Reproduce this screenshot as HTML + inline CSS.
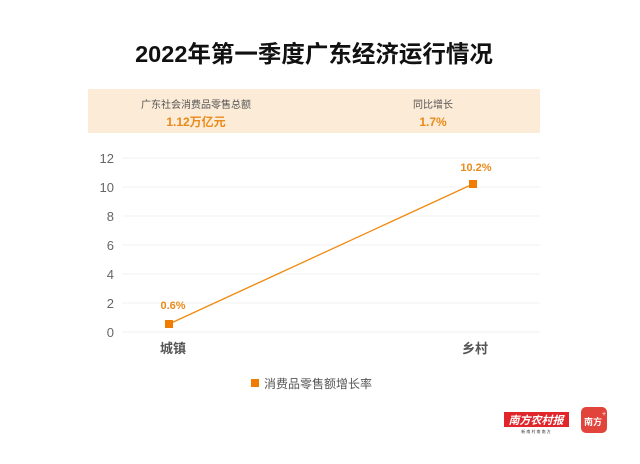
<!DOCTYPE html>
<html><head><meta charset="utf-8"><style>
html,body{margin:0;padding:0;background:#fff;}
body{width:640px;height:459px;overflow:hidden;font-family:"Liberation Sans","Noto Sans CJK SC",sans-serif;}
</style></head><body>
<svg width="640" height="459" viewBox="0 0 640 459" xmlns="http://www.w3.org/2000/svg" font-family="Liberation Sans, Noto Sans CJK SC, sans-serif">
<rect width="640" height="459" fill="#fff"/>
<text x="314" y="62" text-anchor="middle" font-size="23.5" font-weight="bold" fill="#111">2022年第一季度广东经济运行情况</text>
<rect x="88" y="89" width="452" height="44" fill="#fcebd6"/>
<text x="196" y="108" text-anchor="middle" font-size="10" fill="#555">广东社会消费品零售总额</text>
<text x="196" y="126" text-anchor="middle" font-size="12" font-weight="bold" fill="#e98a1a">1.12万亿元</text>
<text x="433" y="108" text-anchor="middle" font-size="10" fill="#555">同比增长</text>
<text x="433" y="126" text-anchor="middle" font-size="12" font-weight="bold" fill="#e98a1a">1.7%</text>
<g stroke="#f0f0f0" stroke-width="1">
<line x1="122" y1="158" x2="540" y2="158"/>
<line x1="122" y1="187" x2="540" y2="187"/>
<line x1="122" y1="216" x2="540" y2="216"/>
<line x1="122" y1="245" x2="540" y2="245"/>
<line x1="122" y1="274" x2="540" y2="274"/>
<line x1="122" y1="303" x2="540" y2="303"/>
<line x1="122" y1="332" x2="540" y2="332"/>
</g>
<g font-size="13" fill="#666" text-anchor="end">
<text x="114" y="163">12</text>
<text x="114" y="192">10</text>
<text x="114" y="221">8</text>
<text x="114" y="250">6</text>
<text x="114" y="279">4</text>
<text x="114" y="308">2</text>
<text x="114" y="337">0</text>
</g>
<line x1="169" y1="324" x2="473" y2="184" stroke="#f08a10" stroke-width="1.3"/>
<rect x="165" y="320" width="8" height="8" fill="#f07d00"/>
<rect x="469" y="180" width="8" height="8" fill="#f07d00"/>
<text x="173" y="309" text-anchor="middle" font-size="11" font-weight="bold" fill="#e98a1a">0.6%</text>
<text x="476" y="171" text-anchor="middle" font-size="11" font-weight="bold" fill="#e98a1a">10.2%</text>
<text x="173" y="353" text-anchor="middle" font-size="13" font-weight="bold" fill="#555">城镇</text>
<text x="475" y="353" text-anchor="middle" font-size="13" font-weight="bold" fill="#555">乡村</text>
<rect x="251" y="379" width="8" height="8" fill="#f07d00"/>
<text x="264" y="388" font-size="12" fill="#555">消费品零售额增长率</text>
<rect x="504" y="412" width="65" height="15" fill="#e0262b"/>
<text x="536" y="424" text-anchor="middle" font-size="11" font-weight="bold" fill="#fff" font-style="italic">南方农村报</text>
<text x="536" y="433" text-anchor="middle" font-size="4" fill="#333">新 南 村 南 南 方</text>
<rect x="581" y="407" width="26" height="26" rx="5" fill="#e0443a"/>
<text x="593" y="425" text-anchor="middle" font-size="9" font-weight="bold" fill="#fff">南方</text>
<text x="602" y="416" font-size="7" fill="#fff">+</text>
</svg>
</body></html>
